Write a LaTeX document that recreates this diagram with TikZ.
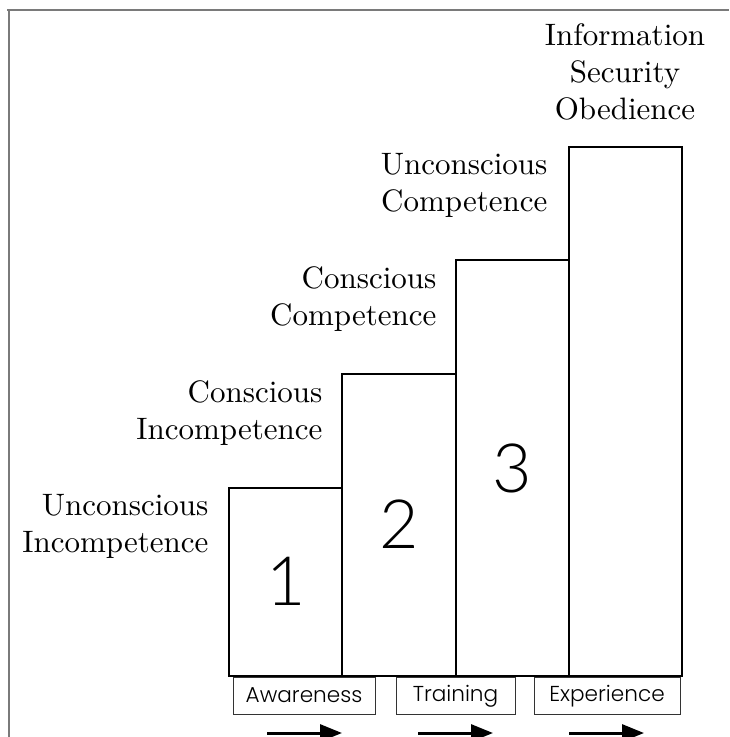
\documentclass[tikz,border=0pt]{standalone}
\usepackage{fontspec}
\usetikzlibrary{arrows.meta}
\newfontfamily\numfont{Lato}[UprightFont={* Light}]
\newfontfamily\boxfont{Poppins}[UprightFont={* Light}]
\definecolor{framegray}{HTML}{7A7A7A}
\definecolor{boxgray}{HTML}{333333}
\tikzset{
  barbox/.style={draw=black, line width=1pt},
  stagelabel/.style={inner sep=0pt, align=right, scale=1.55, font=\fontsize{10}{12}\selectfont},
  toplabel/.style={inner sep=0pt, align=center, scale=1.55, font=\fontsize{10}{12}\selectfont},
  bignum/.style={inner sep=0pt, font=\numfont\fontsize{34}{34}\selectfont},
  phasebox/.style={draw=boxgray, line width=0.5pt, inner sep=0pt, minimum height=18.5pt, font=\boxfont\fontsize{10.8}{12}\selectfont},
  progarrow/.style={line width=1.5pt, -{Triangle[length=11pt,width=8.5pt]}}
}
\begin{document}
\begin{tikzpicture}[x=0.5pt,y=-0.5pt]
\useasboundingbox (0,0) rectangle (729,737);
% frame
\draw[framegray, line width=0.6pt] (7,10) -- (729,10);
\draw[framegray, line width=0.6pt] (9,10) -- (9,737);
% bars
\draw[barbox] (229,676) rectangle (342,488);
\draw[barbox] (342,676) rectangle (456,374);
\draw[barbox] (456,676) rectangle (569,260);
\draw[barbox] (569,676) rectangle (682,147);
% numbers
\node[bignum] (n1) at (286,581) {1};
\node[bignum] (n2) at (399,524) {2};
\node[bignum] (n3) at (512,468) {3};
% stage labels
\node[stagelabel, anchor=north east] (l1) at (209,494) {Unconscious\\Incompetence};
\node[stagelabel, anchor=north east] (l2) at (323,380) {Conscious\\Incompetence};
\node[stagelabel, anchor=north east] (l3) at (437,266) {Conscious\\Competence};
\node[stagelabel, anchor=north east] (l4) at (548,153) {Unconscious\\Competence};
\node[toplabel, anchor=north] (l5) at (625,23) {Information\\Security\\Obedience};
% phase boxes
\node[phasebox, minimum width=71pt] (aw) at (304,695.5) {Awareness};
\node[phasebox, minimum width=59.5pt] (tr) at (455.5,696) {Training};
\node[phasebox, minimum width=73pt] (ex) at (607,696) {Experience};
% arrows
\coordinate (a1s) at (267,733); \coordinate (a1e) at (342,733);
\coordinate (a2s) at (418,733); \coordinate (a2e) at (493,733);
\coordinate (a3s) at (569,733); \coordinate (a3e) at (644,733);
\draw[progarrow] (a1s) -- (a1e);
\draw[progarrow] (a2s) -- (a2e);
\draw[progarrow] (a3s) -- (a3e);
\end{tikzpicture}
\end{document}
